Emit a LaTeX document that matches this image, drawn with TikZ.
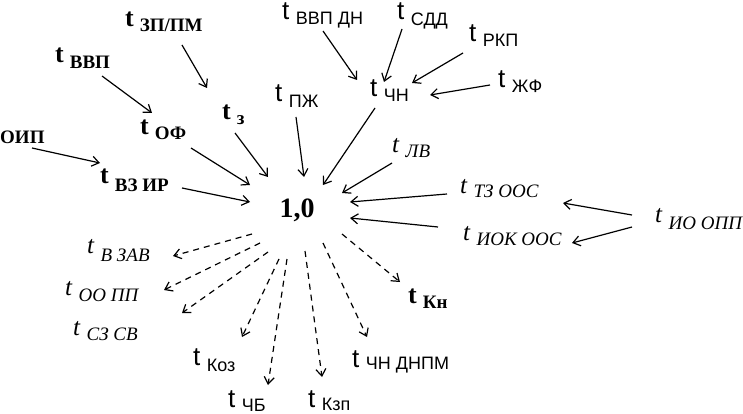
\documentclass[tikz,border=0pt]{standalone}
\usepackage{fontspec}
\setmainfont{Liberation Serif}
\newfontfamily\arialf{Liberation Sans}
\usetikzlibrary{arrows.meta}
\newcommand\tB[2][5]{{\bfseries\fontsize{26}{26}\selectfont t}\hspace{6pt}\raisebox{-#1pt}{\bfseries\fontsize{19}{19}\selectfont #2}}
\newcommand\tS[2][5]{{\arialf\fontsize{26}{26}\selectfont t}\hspace{6.5pt}\raisebox{-#1pt}{\arialf\fontsize{18}{18}\selectfont #2}}
\newcommand\tI[2][5]{{\itshape\fontsize{25}{25}\selectfont t}\hspace{6.5pt}\raisebox{-#1pt}{\itshape\fontsize{19}{19}\selectfont #2}}
\tikzset{
  lab/.style={inner sep=0pt, anchor=base west},
  arr/.style={line width=1.2pt, -{Straight Barb[length=7pt,width=10pt]}},
  darr/.style={arr, dash pattern=on 6pt off 5pt},
}
\begin{document}
\begin{tikzpicture}[x=1pt,y=-1pt]
\useasboundingbox (0,0) rectangle (743,414);
% hub
\node[inner sep=0pt, anchor=base, font=\bfseries\fontsize{28}{28}\selectfont] (c) at (297,217) {1,0};
% bold labels
\node[lab] (zp) at (125,27) {\tB{ЗП/ПМ}};
\node[lab] (vvp) at (55,63) {\tB[6]{ВВП}};
\node[lab, font=\bfseries\fontsize{19}{19}\selectfont] (oip) at (0,143) {ОИП};
\node[lab] (of) at (140,135) {\tB{ОФ}};
\node[lab] (z) at (222,120) {\tB{з}};
\node[lab] (vzir) at (100,183) {\tB[8]{ВЗ ИР}};
\node[lab] (kn) at (408,303) {\tB{Кн}};
% sans labels
\node[lab] (vvpdn) at (282,20) {\tS[5]{ВВП ДН}};
\node[lab] (sdd) at (397,20) {\tS[6]{СДД}};
\node[lab] (rkp) at (469,42) {\tS{РКП}};
\node[lab] (chn) at (370,97) {\tS{ЧН}};
\node[lab] (zhf) at (498,88) {\tS{ЖФ}};
\node[lab] (pzh) at (275,102) {\tS[6]{ПЖ}};
\node[lab] (koz) at (193,365) {\tS[6]{Коз}};
\node[lab] (chb) at (228,407) {\tS[4]{ЧБ}};
\node[lab] (kzp) at (308,407) {\tS[3]{Кзп}};
\node[lab] (chndnpm) at (352,367) {\tS[2]{ЧН ДНПМ}};
% italic labels
\node[lab] (lv) at (392,153) {\tI{ЛВ}};
\node[lab] (tzoos) at (460,193) {\tI[4]{ТЗ ООС}};
\node[lab] (iokoos) at (463,240) {\tI{ИОК ООС}};
\node[lab] (ioopp) at (655,222) {\tI[7]{ИО ОПП}};
\node[lab] (vzav) at (87,253) {\tI[8]{В ЗАВ}};
\node[lab] (oopp) at (65,295) {\tI[6]{ОО ПП}};
\node[lab] (szsv) at (73,335) {\tI[5]{СЗ СВ}};
% solid arrows
\draw[arr] ([shift={(57,18)}]zp.base west) -- ([shift={(-15,-32)}]z.base west);
\draw[arr] ([shift={(47,13)}]vvp.base west) -- ([shift={(12,-22)}]of.base west);
\draw[arr] ([shift={(32,5)}]oip.base west) -- ([shift={(0,-20)}]vzir.base west);
\draw[arr] ([shift={(51,13)}]of.base west) -- ([shift={(-47,-32)}]c.base);
\draw[arr] ([shift={(13,13)}]z.base west) -- ([shift={(-29,-40)}]c.base);
\draw[arr] ([shift={(21,15)}]pzh.base west) -- ([shift={(7,-40)}]c.base);
\draw[arr] ([shift={(82,5)}]vzir.base west) -- ([shift={(-47,-15)}]c.base);
\draw[arr] ([shift={(41,11)}]vvpdn.base west) -- ([shift={(-13,-17)}]chn.base west);
\draw[arr] ([shift={(5,9)}]sdd.base west) -- ([shift={(14,-15)}]chn.base west);
\draw[arr] ([shift={(-6,11)}]rkp.base west) -- ([shift={(42,-14)}]chn.base west);
\draw[arr] ([shift={(-8,-3)}]zhf.base west) -- ([shift={(60,-2)}]chn.base west);
\draw[arr] ([shift={(5,11)}]chn.base west) -- ([shift={(26,-32)}]c.base);
\draw[arr] ([shift={(0,10)}]lv.base west) -- ([shift={(45,-24)}]c.base);
\draw[arr] ([shift={(-13,1)}]tzoos.base west) -- ([shift={(53,-15)}]c.base);
\draw[arr] ([shift={(-25,-13)}]iokoos.base west) -- ([shift={(53,1)}]c.base);
\draw[arr] ([shift={(-23,-7)}]ioopp.base west) -- ([shift={(103,10)}]tzoos.base west);
\draw[arr] ([shift={(-23,5)}]ioopp.base west) -- ([shift={(109,3)}]iokoos.base west);
% dashed arrows
\draw[darr] ([shift={(-45,17)}]c.base) -- ([shift={(86,3)}]vzav.base west);
\draw[darr] ([shift={(-37,26)}]c.base) -- ([shift={(99,-5)}]oopp.base west);
\draw[darr] ([shift={(-29,35)}]c.base) -- ([shift={(109,-22)}]szsv.base west);
\draw[darr] ([shift={(-18,42)}]c.base) -- ([shift={(49,-28)}]koz.base west);
\draw[darr] ([shift={(-10,42)}]c.base) -- ([shift={(40,-22)}]chb.base west);
\draw[darr] ([shift={(8,34)}]c.base) -- ([shift={(14,-30)}]kzp.base west);
\draw[darr] ([shift={(26,26)}]c.base) -- ([shift={(15,-30)}]chndnpm.base west);
\draw[darr] ([shift={(45,17)}]c.base) -- ([shift={(-8,-21)}]kn.base west);
\end{tikzpicture}
\end{document}
